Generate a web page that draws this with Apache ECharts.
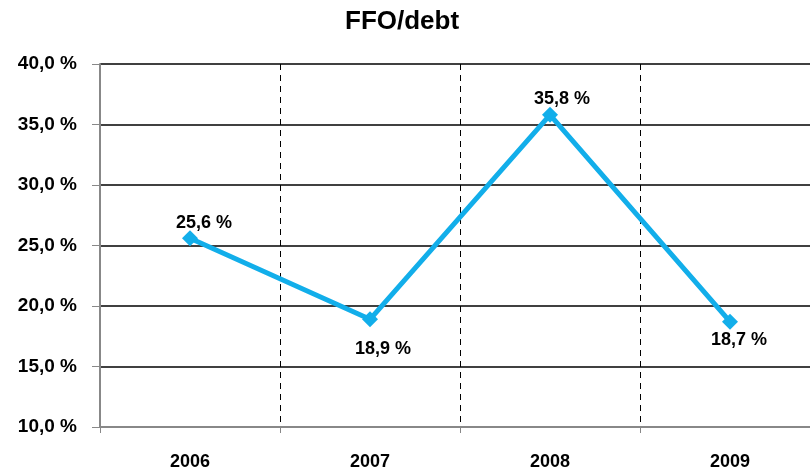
<!DOCTYPE html>
<html><head><meta charset="utf-8">
<script src="https://cdn.jsdelivr.net/npm/echarts@6/dist/echarts.min.js"></script>
<style>html,body{margin:0;padding:0;background:#fff;overflow:hidden;width:810px;height:473px}#c{width:820px;height:473px}</style>
</head><body><div id="c"></div>
<script>
const categories = ['2006', '2007', '2008', '2009'];
const ffoDebt = [25.6, 18.9, 35.8, 18.7];
const labelPlacement = ['top', 'bottom', 'top', 'bottom'];
const labelOffsets = [[14, 2], [13, 13], [12, 1], [9, 1]];
const fmt = v => v.toFixed(1).replace('.', ',') + ' %';
const FONT = '"Liberation Sans", Arial, sans-serif';
const chart = echarts.init(document.getElementById('c'));
chart.setOption({
  animation: false,
  title: { text: 'FFO/debt', left: 340, top: 4, textStyle: { fontFamily: FONT, fontWeight: 'bold', fontSize: 26, color: '#000' } },
  grid: { left: 100, right: 0, top: 64, bottom: 46 },
  xAxis: {
    type: 'category', data: categories, boundaryGap: true,
    axisLine: { lineStyle: { color: '#888', width: 2 } },
    axisTick: { show: true, length: 6, lineStyle: { color: '#888', width: 1 } },
    axisLabel: { fontFamily: FONT, fontWeight: 'bold', fontSize: 18, color: '#000', margin: 26 },
    splitLine: { show: true, lineStyle: { color: '#000', type: [6, 5], width: 1 } }
  },
  yAxis: {
    type: 'value', min: 10, max: 40, interval: 5,
    axisLine: { show: true, lineStyle: { color: '#888', width: 2 } },
    axisTick: { show: true, length: 8, lineStyle: { color: '#888', width: 1 } },
    axisLabel: { fontFamily: FONT, fontWeight: 'bold', fontSize: 19, color: '#000', margin: 23, formatter: v => fmt(v) },
    splitLine: { show: true, lineStyle: { color: '#000', width: 1.6 } }
  },
  series: [{
    type: 'line', data: ffoDebt.map((v, i) => ({
      value: v,
      label: { position: labelPlacement[i], offset: labelOffsets[i], distance: 0 }
    })),
    symbol: 'diamond', symbolSize: 16,
    lineStyle: { color: '#12AEEA', width: 5 },
    itemStyle: { color: '#12AEEA' },
    label: { show: true, fontFamily: FONT, fontWeight: 'bold', fontSize: 18, color: '#000', formatter: p => fmt(p.value) }
  }]
});
</script></body></html>
